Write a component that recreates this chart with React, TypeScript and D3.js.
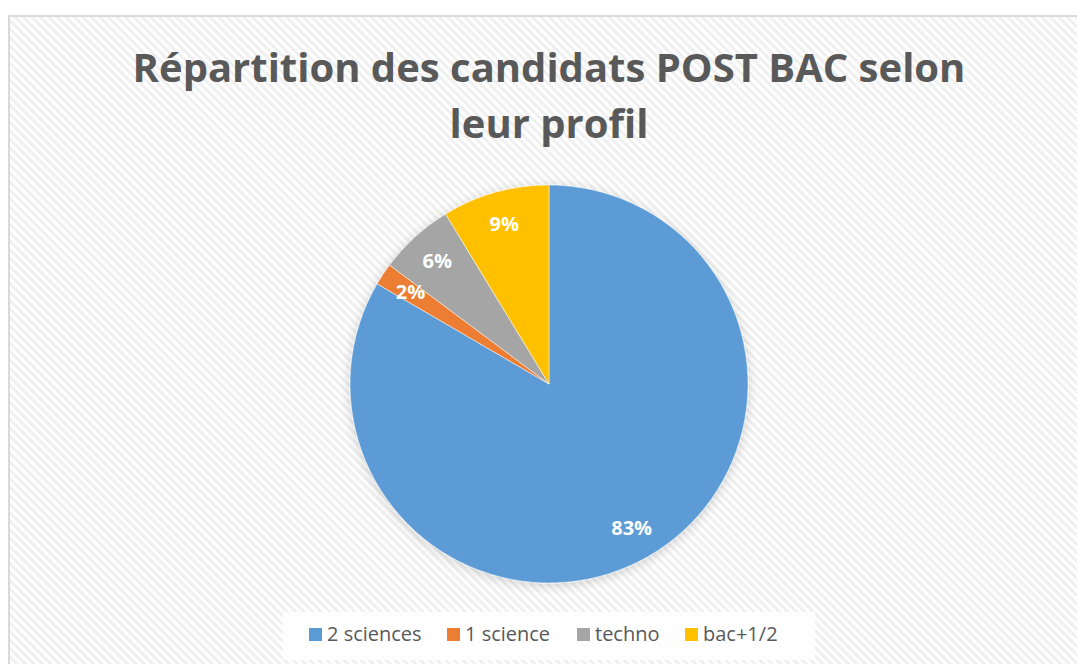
import React from 'react';
import * as d3 from 'd3';

const categories = ['2 sciences', '1 science', 'techno', 'bac+1/2'];
const values = [83.4, 1.8, 6.1, 8.7];
const colors = ['#5B9BD5', '#ED7D31', '#A5A5A5', '#FFC000'];
const titleLines = ['Répartition des candidats POST BAC selon', 'leur profil'];

const W = 1077;
const H = 664;
const cx = 549;
const cy = 384;
const R = 199;
const font = "'Open Sans', sans-serif";

export default function App() {
  const total = d3.sum(values);
  const pie = d3.pie<number>().sort(null).value((d) => d);
  const arcs = pie(values);
  const arc = d3.arc<d3.PieArcDatum<number>>().innerRadius(0).outerRadius(R);
  const labelArc = d3.arc<d3.PieArcDatum<number>>().innerRadius(166).outerRadius(166);

  // legend item starts (square x)
  const legendX = [309, 447, 577, 685];

  return (
    <svg width={W} height={H} style={{ position: 'absolute', left: 0, top: 0, display: 'block' }}>
      <defs>
        <pattern id="stripes" width="6" height="6" patternUnits="userSpaceOnUse" patternTransform="rotate(45)">
          <rect width="6" height="6" fill="#ffffff" />
          <rect width="6" height="3" fill="#f0f0f0" />
        </pattern>
        <filter id="shadow" x="-20%" y="-20%" width="140%" height="140%">
          <feGaussianBlur in="SourceAlpha" stdDeviation="6" />
          <feOffset dx="0" dy="2" />
          <feComponentTransfer>
            <feFuncA type="linear" slope="0.18" />
          </feComponentTransfer>
          <feMerge>
            <feMergeNode />
            <feMergeNode in="SourceGraphic" />
          </feMerge>
        </filter>
      </defs>
      <rect x={0} y={0} width={W} height={H} fill="#ffffff" />
      <rect x={9} y={16} width={W + 20} height={H + 20} fill="url(#stripes)" stroke="#d9d9d9" strokeWidth={2} />

      {titleLines.map((t, i) => (
        <text key={i} x={cx} y={82 + i * 56} textAnchor="middle" fontFamily={font} fontWeight="bold"
          fontSize={40} fill="#595959">{t}</text>
      ))}

      <g transform={`translate(${cx},${cy})`} filter="url(#shadow)">
        {arcs.map((a, i) => (
          <path key={i} d={arc(a) || ''} fill={colors[i]} stroke="#ffffff" strokeWidth={0.5} />
        ))}
      </g>
      <g transform={`translate(${cx},${cy})`}>
        {arcs.map((a, i) => {
          const [x, y] = labelArc.centroid(a);
          return (
            <text key={i} x={x} y={y} dy="0.35em" textAnchor="middle" fontFamily={font}
              fontWeight="bold" fontSize={20} fill="#ffffff">
              {Math.round((values[i] / total) * 100)}%
            </text>
          );
        })}
      </g>

      <rect x={283} y={612} width={532} height={48} fill="#ffffff" opacity={0.85} />
      {categories.map((c, i) => (
        <g key={c} transform={`translate(${legendX[i]},634)`}>
          <rect x={0} y={-6} width={13} height={13} fill={colors[i]} />
          <text x={18} y={0} dy="0.35em" fontFamily={font} fontSize={20} fill="#595959">{c}</text>
        </g>
      ))}
    </svg>
  );
}
